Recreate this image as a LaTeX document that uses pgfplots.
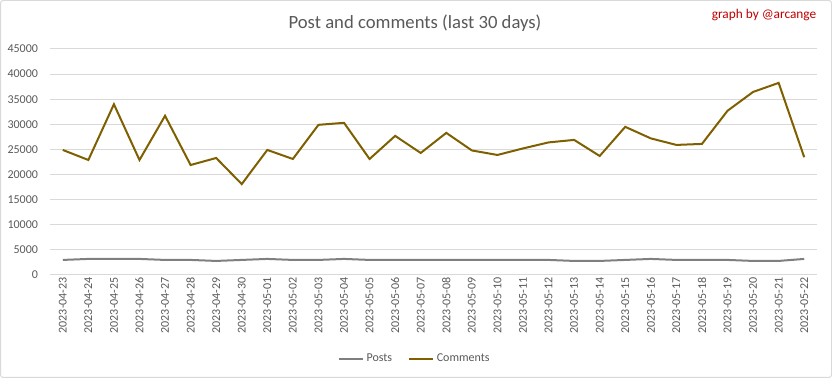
\documentclass[border=0pt]{standalone}
\usepackage{fontspec}
\setmainfont{Carlito}
\usepackage{pgfplots}
\pgfplotsset{compat=1.18}
\definecolor{txt}{HTML}{595959}
\definecolor{gridc}{HTML}{D9D9D9}
\definecolor{postc}{HTML}{7F7F7F}
\definecolor{commc}{HTML}{7F6000}
\definecolor{redc}{HTML}{C00000}
\begin{document}
\begin{tikzpicture}
\draw[gridc, line width=0.75pt, rounded corners=2pt] (0.375pt,0.375pt) rectangle (623.625pt,283.125pt);
\node[txt, font=\fontsize{14}{16}\selectfont] at (311.25pt,266pt) {Post and comments (last 30 days)};
\node[redc, font=\fontsize{10}{12}\selectfont, anchor=east] at (615.75pt,272.25pt) {graph by @arcange};
\begin{axis}[
  at={(37.5pt,77.25pt)}, anchor=south west,
  scale only axis, width=575.25pt, height=169.5pt,
  xmin=-0.5, xmax=29.5, ymin=0, ymax=45000,
  ytick={0,5000,...,45000},
  xtick={0,...,29},
  xticklabels={2023-04-23,2023-04-24,2023-04-25,2023-04-26,2023-04-27,2023-04-28,2023-04-29,2023-04-30,2023-05-01,2023-05-02,2023-05-03,2023-05-04,2023-05-05,2023-05-06,2023-05-07,2023-05-08,2023-05-09,2023-05-10,2023-05-11,2023-05-12,2023-05-13,2023-05-14,2023-05-15,2023-05-16,2023-05-17,2023-05-18,2023-05-19,2023-05-20,2023-05-21,2023-05-22},
  axis line style={draw=none},
  major tick length=0pt,
  ymajorgrids, grid style={gridc, line width=0.75pt},
  scaled y ticks=false,
  /pgf/number format/1000 sep={},
  /pgf/number format/assume math mode=true,
  tick label style={font=\fontsize{9}{10}\selectfont, text=txt},
  yticklabel style={xshift=-5.5pt},
  xticklabel style={rotate=90, anchor=east, inner sep=1.5pt},
  legend style={at={(0.476,-0.37)}, anchor=center, draw=none, legend columns=2,
    font=\fontsize{9}{10}\selectfont, text=txt,
    /tikz/every even column/.append style={column sep=10pt}},
  legend image code/.code={\draw[#1] (0pt,0pt) -- (18pt,0pt);},
]
\addplot[postc, line width=1.5pt] coordinates {
(0,3000)(1,3200)(2,3200)(3,3200)(4,3000)(5,3000)(6,2800)(7,3000)(8,3200)(9,3000)
(10,3000)(11,3200)(12,3000)(13,3000)(14,3000)(15,3000)(16,3000)(17,3000)(18,3000)(19,3000)
(20,2800)(21,2800)(22,3000)(23,3200)(24,3000)(25,3000)(26,3000)(27,2800)(28,2800)(29,3200)};
\addlegendentry{Posts}
\addplot[commc, line width=1.5pt] coordinates {
(0,24900)(1,22900)(2,34000)(3,22900)(4,31700)(5,21900)(6,23300)(7,18100)(8,24900)(9,23100)
(10,29900)(11,30300)(12,23100)(13,27700)(14,24300)(15,28300)(16,24800)(17,23900)(18,25200)(19,26400)
(20,26900)(21,23700)(22,29500)(23,27200)(24,25900)(25,26100)(26,32700)(27,36450)(28,38250)(29,23450)};
\addlegendentry{Comments}
\end{axis}
\end{tikzpicture}
\end{document}
